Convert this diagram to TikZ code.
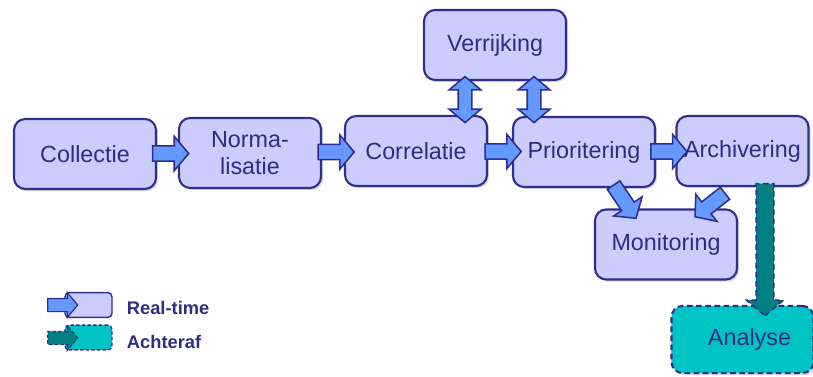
\documentclass[tikz,border=0pt]{standalone}
\usepackage{fontspec}
\setmainfont{Liberation Sans}
\usetikzlibrary{shapes.arrows,positioning,calc,shadows}
\definecolor{BoxFill}{RGB}{204,204,255}
\definecolor{BoxLine}{RGB}{46,46,140}
\definecolor{ArrFill}{RGB}{102,153,255}
\definecolor{TealFill}{RGB}{0,196,196}
\definecolor{TealArr}{RGB}{0,128,128}
\definecolor{TextBlue}{RGB}{45,45,130}

\begin{document}
\begin{tikzpicture}[x=0.025cm,y=-0.025cm,
  stage/.style={draw=BoxLine,fill=BoxFill,line width=1.5pt,rounded corners=8pt,
              minimum width=3.55cm,minimum height=1.75cm,align=center,text=TextBlue,
              font=\fontsize{16.6}{19.5}\selectfont,
              drop shadow={opacity=0.3,shadow xshift=1.5pt,shadow yshift=-1.5pt}},
  later/.style={stage,fill=TealFill,dash pattern=on 4pt off 2.5pt},
  keybox/.style={draw=BoxLine,fill=BoxFill,line width=1pt,rounded corners=3pt,
              minimum width=1.175cm,minimum height=0.62cm},
  keytext/.style={anchor=west,text=TextBlue,font=\fontsize{13}{15}\bfseries},
  fatarr/.style={single arrow,draw=BoxLine,fill=ArrFill,line width=1.1pt,
              inner sep=0pt,inner ysep=0.17cm,single arrow head extend=0.24cm,
              single arrow tip angle=100,minimum height=0.9cm},
  dblarr/.style={double arrow,draw=BoxLine,fill=ArrFill,line width=1.1pt,
              inner sep=0pt,inner ysep=0.15cm,double arrow head extend=0.23cm,
              double arrow tip angle=100,minimum height=1.15cm,rotate=90},
]
\useasboundingbox (0,0) rectangle (813,376);

% stages
\node[stage] (coll) at (85,154) {Collectie};
\node[stage] (norm) at (250,153) {Norma-\\lisatie};
\node[stage] (corr) at (416,151) {Correlatie};
\node[stage] (prio) at (584,152) {Prioritering};
\node[stage,minimum width=3.3cm] (arch) at (742.5,151) {Archivering};
\node[stage] (verr) at (495,45) {Verrijking};
\node[stage] (mon) at (666,244.5) {Monitoring};
\node[later,minimum height=1.68cm] (ana) at (742.5,339.5) {\hspace*{0.35cm}Analyse};

% real-time flow
\foreach \a/\b in {coll/norm,norm/corr,corr/prio,prio/arch}
  \node[fatarr] (\a-\b) at ($(\a.east)!0.5!(\b.west)$) {};
\foreach \b/\dx in {corr/-30,prio/39}
  \node[dblarr] (verr-\b) at ($(verr.south)+(\dx,18.5)$) {};
\node[fatarr,minimum height=1cm,rotate=-56] (prio-mon) at ($(prio.south)+(39,11)$) {};
\node[fatarr,minimum height=0.95cm,rotate=-142] (arch-mon) at ($(arch.south)+(-30,16)$) {};

% afterwards
\node[fatarr,fill=TealArr,dash pattern=on 4pt off 2.5pt,inner ysep=0.2cm,
      minimum height=3.3cm,rotate=-90] (arch-ana) at ($(arch.south)!0.5!(ana.north)+(22.5,0)$) {};

% legend
\node[keybox] (keyrt) at (88.5,305) {};
\node[keybox,fill=TealFill,dash pattern=on 2.5pt off 1.5pt] (keyat) at (88.5,337.5) {};
\node[fatarr,line width=0.8pt,inner ysep=0.15cm,single arrow head extend=0.15cm,
      minimum height=0.75cm] (keyrtarr) at (60,305) {};
\node[fatarr,fill=TealArr,line width=0.8pt,dash pattern=on 2.5pt off 1.5pt,inner ysep=0.15cm,
      single arrow head extend=0.15cm,minimum height=0.75cm] (keyatarr) at (60,338) {};
\node[keytext] (keyrttxt) at (122,308) {Real-time};
\node[keytext] (keyattxt) at (122,342) {Achteraf};
\end{tikzpicture}
\end{document}
